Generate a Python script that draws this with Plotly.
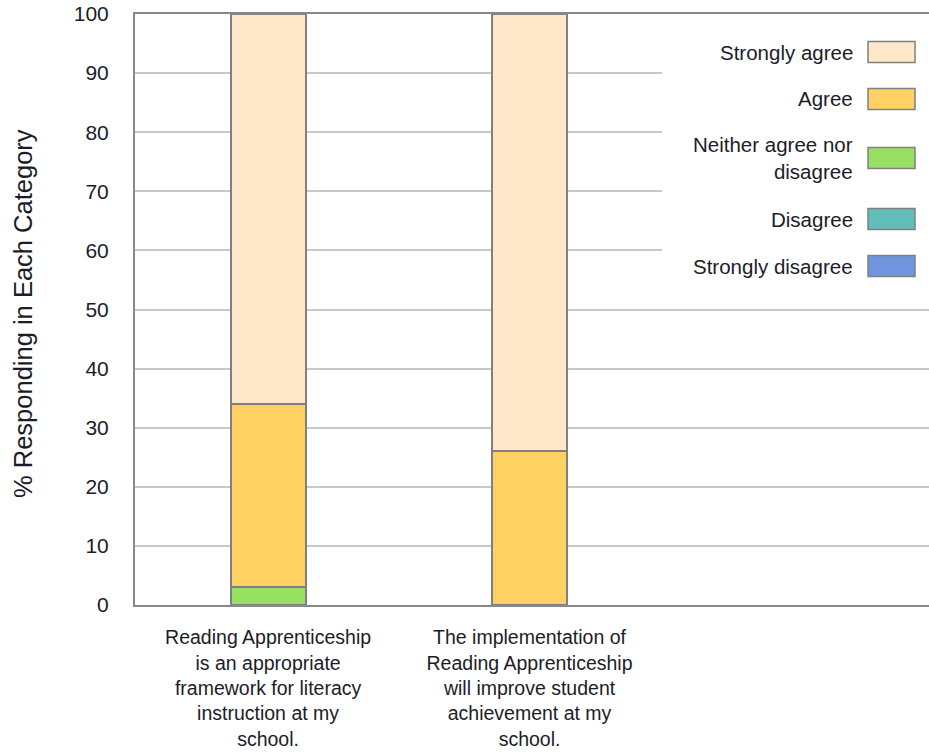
import plotly.graph_objects as go

categories = [
    "Reading Apprenticeship<br>is an appropriate<br>framework for literacy<br>instruction at my<br>school.",
    "The implementation of<br>Reading Apprenticeship<br>will improve student<br>achievement at my<br>school.",
]
series_names = ["Strongly disagree", "Disagree", "Neither agree nor<br>disagree", "Agree", "Strongly agree"]
strongly_disagree = [0, 0]
disagree = [0, 0]
neither = [3, 0]
agree = [31, 26]
strongly_agree = [66, 74]
colors = ["#6F95E0", "#62BDBA", "#97E063", "#FFD062", "#FFE8C9"]
y_ticks = [0, 10, 20, 30, 40, 50, 60, 70, 80, 90, 100]

series_values = [strongly_disagree, disagree, neither, agree, strongly_agree]

FONT = "Liberation Sans, Arial, sans-serif"
TXT = "#1c1c28"

fig = go.Figure()
xpos = list(range(len(categories)))
for name, vals, col in zip(series_names, series_values, colors):
    fig.add_trace(go.Bar(
        x=xpos, y=vals, name=name, width=0.287,
        marker=dict(color=col, line=dict(color="#808080", width=2)),
        showlegend=False,
    ))

fig.update_layout(
    barmode="stack",
    width=929, height=752,
    margin=dict(l=135, r=0, t=14, b=147),
    plot_bgcolor="white", paper_bgcolor="white",
    font=dict(family=FONT, size=20, color=TXT),
    xaxis=dict(
        range=[-0.509, 2.528], tickvals=xpos, ticktext=categories,
        showgrid=False, showline=True, linecolor="#888888", linewidth=2, mirror=True,
        ticks="outside", ticklen=14, tickcolor="rgba(0,0,0,0)",
        tickfont=dict(size=19.5, family=FONT, color=TXT), zeroline=False,
    ),
    yaxis=dict(
        range=[0, 100], tickvals=y_ticks, showgrid=True, gridcolor="#C8C8C8", gridwidth=1.5,
        showline=True, linecolor="#888888", linewidth=2, zeroline=False,
        ticks="outside", ticklen=20, tickcolor="rgba(0,0,0,0)",
        tickfont=dict(size=21, family=FONT, color=TXT),
    ),
)

# Y axis title
fig.add_annotation(
    text="% Responding in Each Category", textangle=-90,
    xref="paper", yref="paper", x=(23 - 135) / 794, y=(605 - 314) / 591,
    xanchor="center", yanchor="middle", showarrow=False,
    font=dict(size=25.5, family=FONT, color=TXT),
)

# Custom legend (swatch on right, text right-aligned)
def px_x(px):
    return (px - 135) / 794

def px_y(py):
    return (605 - py) / 591

fig.add_shape(type="rect", xref="paper", yref="paper",
              x0=px_x(662), x1=px_x(929), y0=px_y(290), y1=px_y(25),
              fillcolor="white", line=dict(width=0), layer="above")

legend_centers = [266, 219, 158, 99, 52]
for name, col, cy in zip(series_names, colors, legend_centers):
    fig.add_shape(type="rect", xref="paper", yref="paper",
                  x0=px_x(868), x1=px_x(915), y0=px_y(cy + 10.5), y1=px_y(cy - 10.5),
                  fillcolor=col, line=dict(color="#808080", width=1.5), layer="above")
    fig.add_annotation(text=name, xref="paper", yref="paper",
                       x=px_x(855), y=px_y(cy), xanchor="right", yanchor="middle",
                       align="right", showarrow=False,
                       font=dict(size=20.5, family=FONT, color=TXT))

fig.write_html("out.html")
